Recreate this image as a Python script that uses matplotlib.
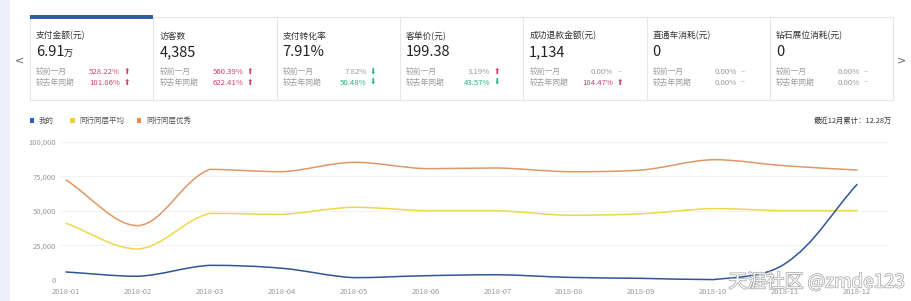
import numpy as np
import matplotlib
matplotlib.use("Agg")
import matplotlib.pyplot as plt
from matplotlib.path import Path
from matplotlib.patches import PathPatch, Rectangle
import matplotlib.patheffects as pe

plt.rcParams["font.family"] = ["Noto Sans CJK SC", "DejaVu Sans"]

# ---- data ----
months = ["2018-01", "2018-02", "2018-03", "2018-04", "2018-05", "2018-06",
          "2018-07", "2018-08", "2018-09", "2018-10", "2018-11", "2018-12"]
mine = [5800, 2700, 10600, 8500, 1700, 3100, 3800, 1900, 1200, 300, 11800, 69100]
peer_avg = [41000, 22400, 48200, 47500, 52600, 50100, 50100, 46800, 47900, 51600, 50100, 50100]
peer_best = [72300, 39300, 80000, 78300, 85100, 80500, 81000, 78300, 79500, 87000, 82600, 79500]
series_names = ["我的", "同行同层平均", "同行同层优秀"]
y_ticks = [0, 25000, 50000, 75000, 100000]

card_titles = ["支付金额(元)", "访客数", "支付转化率", "客单价(元)",
               "成功退款金额(元)", "直通车消耗(元)", "钻石展位消耗(元)"]
card_values = ["6.91", "4,385", "7.91%", "199.38", "1,134", "0", "0"]
card_units = ["万", "", "", "", "", "", ""]
mom_pct = [528.22, 560.39, 7.82, 3.19, 0.00, 0.00, 0.00]
mom_dir = [1, 1, -1, 1, 0, 0, 0]
yoy_pct = [101.86, 622.41, 50.48, 43.57, 184.47, 0.00, 0.00]
yoy_dir = [1, 1, -1, -1, 1, 0, 0]
total_text = "最近12月累计：12.28万"

W, H = 912, 301
fig = plt.figure(figsize=(W / 100, H / 100), dpi=100)
fig.patch.set_facecolor("white")


def fx(x):
    return x / W


def fy(y):
    return 1 - y / H


# page strip on the left
fig.patches.append(Rectangle((0, 0), fx(10), 1, transform=fig.transFigure,
                             facecolor="#eef0f9", edgecolor="none"))

# ---- KPI cards ----
card_left = 30
card_w = 123.3
top, bottom = 17, 100
UP, DOWN, GRAY = "#d0426b", "#21b38a", "#9a9a9a"
fig.patches.append(Rectangle((fx(card_left), fy(bottom)), fx(card_w * 7), fy(top) - fy(bottom),
                             transform=fig.transFigure, facecolor="white",
                             edgecolor="#e6e6e6", lw=0.8))
for i in range(1, 7):
    xx = fx(card_left + i * card_w)
    fig.add_artist(plt.Line2D([xx, xx], [fy(bottom), fy(top)], color="#e6e6e6", lw=0.8))
fig.patches.append(Rectangle((fx(card_left), fy(18.5)), fx(card_w), fy(15.5) - fy(18.5),
                             transform=fig.transFigure, facecolor="#2f5ea6", edgecolor="none"))

for i, t in enumerate(card_titles):
    x0 = card_left + i * card_w + 6
    fig.text(fx(x0), fy(36), t, fontsize=6.3, color="#333333", va="center")
    fig.text(fx(x0), fy(52), card_values[i], fontsize=10.5, color="#222222", va="center")
    if card_units[i]:
        fig.text(fx(x0 + 28), fy(54), card_units[i], fontsize=6.5, color="#222222", va="center")
    for yy, lab, pct, d in [(72, "较前一月", mom_pct[i], mom_dir[i]),
                            (82.5, "较去年同期", yoy_pct[i], yoy_dir[i])]:
        fig.text(fx(x0), fy(yy), lab, fontsize=5.6, color=GRAY, va="center")
        col = GRAY
        if d != 0 and pct >= 10:
            col = UP if d > 0 else DOWN
        fig.text(fx(x0 + 84), fy(yy), f"{pct:.2f}%", fontsize=5.6, color=col,
                 va="center", ha="right")
        if d == 0:
            fig.text(fx(x0 + 88), fy(yy), "–", fontsize=5.5, color=GRAY, va="center")
        else:
            fig.text(fx(x0 + 87.5), fy(yy), "⬆" if d > 0 else "⬇", fontsize=5.5,
                     family="DejaVu Sans",
                     color=UP if d > 0 else DOWN, va="center")

fig.text(fx(20), fy(60), "<", fontsize=8, color="#666666", ha="center", va="center",
         family="DejaVu Sans")
fig.text(fx(902), fy(60), ">", fontsize=8, color="#666666", ha="center", va="center",
         family="DejaVu Sans")

# ---- legend / total ----
line_colors = ["#2f5597", "#ecd84a", "#df9766"]
leg_colors = ["#2c5fc4", "#e5d12c", "#ef8a48"]
leg_x = [30, 70, 137]
for lx, c, n in zip(leg_x, leg_colors, series_names):
    fig.patches.append(Rectangle((fx(lx), fy(123)), fx(4.5), fy(118.5) - fy(123),
                                 transform=fig.transFigure, facecolor=c, edgecolor="none"))
    fig.text(fx(lx + 9), fy(121), n, fontsize=5.4, color="#555555", va="center")
fig.text(fx(892), fy(121), total_text, fontsize=5.3, color="#333333", va="center", ha="right")

# ---- chart ----
ax_l, ax_r, ax_b, ax_t = 60, 888, 280, 141.7
ax = fig.add_axes([fx(ax_l), fy(ax_b), fx(ax_r - ax_l), fy(ax_t) - fy(ax_b)])
step = (857 - 66) / 11
ax.set_xlim((ax_l - 66) / step, (ax_r - 66) / step)
ax.set_ylim(0, 100000)
for s in ax.spines.values():
    s.set_visible(False)
ax.set_yticks(y_ticks)
ax.set_yticklabels([f"{v:,}" for v in y_ticks])
ax.set_xticks(range(len(months)))
ax.set_xticklabels(months)
ax.tick_params(length=0, labelsize=5.5, labelcolor="#999999", pad=3)
ax.tick_params(axis="x", pad=6)
ax.grid(axis="y", color="#f2f2f2", lw=0.7)
ax.set_axisbelow(True)
ax.patch.set_alpha(0)

xpx, ypx = step, 138.3 / 100000  # pixel scale for smoothing


def smooth_path(xs, ys, smooth=0.35):
    pts = np.column_stack([np.asarray(xs, float) * xpx, np.asarray(ys, float) * ypx])
    n = len(pts)
    cp0, cp1 = pts.copy(), pts.copy()
    for i in range(n):
        p = pts[i]
        prev = pts[i - 1] if i > 0 else p
        nxt = pts[i + 1] if i < n - 1 else p
        v = nxt - prev
        a = np.hypot(*(p - prev))
        b = np.hypot(*(p - nxt))
        r = b / (a + b) if a + b > 0 else 0.5
        c0 = p - v * smooth * (1 - r)
        c1 = p + v * smooth * r
        # keep control points between the neighbours (no overshoot)
        c0[1] = np.clip(c0[1], min(p[1], prev[1]), max(p[1], prev[1]))
        c1[1] = np.clip(c1[1], min(p[1], nxt[1]), max(p[1], nxt[1]))
        cp0[i], cp1[i] = c0, c1
    verts = [pts[0]]
    codes = [Path.MOVETO]
    for i in range(n - 1):
        verts += [cp1[i], cp0[i + 1], pts[i + 1]]
        codes += [Path.CURVE4] * 3
    verts = np.array(verts) / np.array([xpx, ypx])
    return Path(verts, codes)


xs = np.arange(len(months))
for ys, c in zip([peer_best, peer_avg, mine], [line_colors[2], line_colors[1], line_colors[0]]):
    ax.add_patch(PathPatch(smooth_path(xs, ys), facecolor="none", edgecolor=c,
                           lw=1.1, clip_on=False, capstyle="round"))

# watermark
fig.text(fx(905), fy(282), "天涯社区 @zmde123", fontsize=13.5, color="white",
         ha="right", va="center", alpha=0.95,
         path_effects=[pe.withStroke(linewidth=1.0, foreground="#a0a0a0")])

fig.savefig("out.png", dpi=100, facecolor="white")
